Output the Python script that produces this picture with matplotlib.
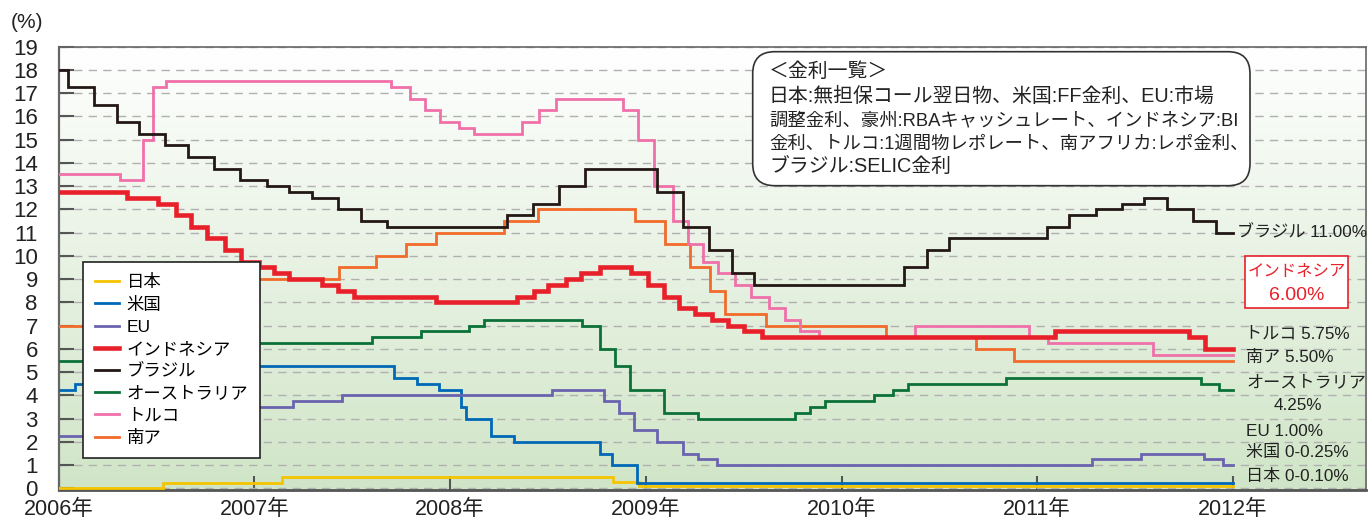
import numpy as np
import pandas as pd
import matplotlib
matplotlib.use('Agg')
import matplotlib.pyplot as plt
from matplotlib.patches import FancyBboxPatch, Rectangle

plt.rcParams['font.family'] = ['Liberation Sans', 'Noto Sans CJK JP']

# 政策金利 (変更日, 金利%)
japan_dates = ['2006-01-01', '2006-07-14', '2007-02-21', '2008-10-31', '2008-12-19']
japan_rates = [0.0, 0.25, 0.50, 0.30, 0.10]

us_dates = ['2006-01-01', '2006-01-31', '2006-03-28', '2006-05-10', '2006-06-29', '2007-09-18',
            '2007-10-31', '2007-12-11', '2008-01-22', '2008-01-30', '2008-03-18', '2008-04-30',
            '2008-10-08', '2008-10-29', '2008-12-16']
us_rates = [4.25, 4.50, 4.75, 5.00, 5.25, 4.75, 4.50, 4.25, 3.50, 3.00, 2.25, 2.00, 1.50, 1.00, 0.25]

eu_dates = ['2006-01-01', '2006-03-08', '2006-06-15', '2006-08-09', '2006-10-11', '2006-12-13',
            '2007-03-14', '2007-06-13', '2008-07-09', '2008-10-15', '2008-11-12', '2008-12-10',
            '2009-01-21', '2009-03-11', '2009-04-08', '2009-05-13', '2011-04-13', '2011-07-13',
            '2011-11-09', '2011-12-14']
eu_rates = [2.25, 2.50, 2.75, 3.00, 3.25, 3.50, 3.75, 4.00, 4.25, 3.75, 3.25, 2.50,
            2.00, 1.50, 1.25, 1.00, 1.25, 1.50, 1.25, 1.00]

indonesia_dates = ['2006-01-01', '2006-05-09', '2006-07-06', '2006-08-08', '2006-09-05', '2006-10-05',
                   '2006-11-07', '2006-12-07', '2007-01-09', '2007-02-06', '2007-03-06', '2007-05-08',
                   '2007-06-05', '2007-07-05', '2007-12-06', '2008-05-06', '2008-06-05', '2008-07-03',
                   '2008-08-05', '2008-09-02', '2008-10-07', '2008-12-04', '2009-01-06', '2009-02-04',
                   '2009-03-04', '2009-04-03', '2009-05-05', '2009-06-03', '2009-07-03', '2009-08-05',
                   '2011-02-04', '2011-10-11', '2011-11-10']
indonesia_rates = [12.75, 12.50, 12.25, 11.75, 11.25, 10.75, 10.25, 9.75, 9.50, 9.25, 9.00, 8.75,
                   8.50, 8.25, 8.00, 8.25, 8.50, 8.75, 9.00, 9.25, 9.50, 9.25, 8.75, 8.25,
                   7.75, 7.50, 7.25, 7.00, 6.75, 6.50, 6.75, 6.50, 6.00]

brazil_dates = ['2006-01-01', '2006-01-18', '2006-03-08', '2006-04-19', '2006-05-31', '2006-07-19',
                '2006-08-30', '2006-10-18', '2006-12-06', '2007-01-24', '2007-03-07', '2007-04-18',
                '2007-06-06', '2007-07-18', '2007-09-05', '2008-04-16', '2008-06-04', '2008-07-23',
                '2008-09-10', '2009-01-21', '2009-03-11', '2009-04-29', '2009-06-10', '2009-07-22',
                '2010-04-28', '2010-06-09', '2010-07-21', '2011-01-19', '2011-03-02', '2011-04-20',
                '2011-06-08', '2011-07-20', '2011-08-31', '2011-10-19', '2011-11-30']
brazil_rates = [18.00, 17.25, 16.50, 15.75, 15.25, 14.75, 14.25, 13.75, 13.25, 13.00, 12.75, 12.50,
                12.00, 11.50, 11.25, 11.75, 12.25, 13.00, 13.75, 12.75, 11.25, 10.25, 9.25, 8.75,
                9.50, 10.25, 10.75, 11.25, 11.75, 12.00, 12.25, 12.50, 12.00, 11.50, 11.00]

australia_dates = ['2006-01-01', '2006-05-03', '2006-08-02', '2006-11-08', '2007-08-08', '2007-11-07',
                   '2008-02-06', '2008-03-05', '2008-09-03', '2008-10-08', '2008-11-05', '2008-12-03',
                   '2009-02-04', '2009-04-08', '2009-10-07', '2009-11-04', '2009-12-02', '2010-03-03',
                   '2010-04-07', '2010-05-05', '2010-11-03', '2011-11-02', '2011-12-07']
australia_rates = [5.50, 5.75, 6.00, 6.25, 6.50, 6.75, 7.00, 7.25, 7.00, 6.00, 5.25, 4.25,
                   3.25, 3.00, 3.25, 3.50, 3.75, 4.00, 4.25, 4.50, 4.75, 4.50, 4.25]

turkey_dates = ['2006-01-01', '2006-04-25', '2006-06-07', '2006-06-25', '2006-07-20', '2007-09-13',
                '2007-10-18', '2007-11-15', '2007-12-13', '2008-01-17', '2008-02-14', '2008-05-15',
                '2008-06-16', '2008-07-17', '2008-11-20', '2008-12-18', '2009-01-16', '2009-02-20',
                '2009-03-20', '2009-04-17', '2009-05-15', '2009-06-17', '2009-07-17', '2009-08-19',
                '2009-09-17', '2009-10-16', '2009-11-20', '2010-05-18', '2010-12-17', '2011-01-21',
                '2011-08-05']
turkey_rates = [13.50, 13.25, 15.00, 17.25, 17.50, 17.25, 16.75, 16.25, 15.75, 15.50, 15.25, 15.75,
                16.25, 16.75, 16.25, 15.00, 13.00, 11.50, 10.50, 9.75, 9.25, 8.75, 8.25, 7.75,
                7.25, 6.75, 6.50, 7.00, 6.50, 6.25, 5.75]

safrica_dates = ['2006-01-01', '2006-06-08', '2006-08-03', '2006-10-12', '2006-12-07', '2007-06-07',
                 '2007-08-16', '2007-10-11', '2007-12-06', '2008-04-11', '2008-06-13', '2008-12-12',
                 '2009-02-06', '2009-03-24', '2009-04-30', '2009-05-28', '2009-08-13', '2010-03-25',
                 '2010-09-09', '2010-11-18']
safrica_rates = [7.00, 7.50, 8.00, 8.50, 9.00, 9.50, 10.00, 10.50, 11.00, 11.50, 12.00, 11.50,
                 10.50, 9.50, 8.50, 7.50, 7.00, 6.50, 6.00, 5.50]

end_date = '2012-01-01'

series = [
    ('日本', japan_dates, japan_rates, '#f5c400', 2.0),
    ('米国', us_dates, us_rates, '#0068b7', 2.0),
    ('EU', eu_dates, eu_rates, '#6a63b0', 2.0),
    ('インドネシア', indonesia_dates, indonesia_rates, '#e8202a', 3.3),
    ('ブラジル', brazil_dates, brazil_rates, '#231815', 2.0),
    ('オーストラリア', australia_dates, australia_rates, '#0b7138', 2.0),
    ('トルコ', turkey_dates, turkey_rates, '#f070aa', 2.0),
    ('南ア', safrica_dates, safrica_rates, '#f26b2a', 2.0),
]
draw_order = ['日本', '米国', 'EU', 'オーストラリア', '南ア', 'トルコ', 'ブラジル', 'インドネシア']


def dec_year(s):
    t = pd.Timestamp(s)
    days = 366 if t.is_leap_year else 365
    return t.year + (t.dayofyear - 1) / days


W, H = 1370, 518
fig = plt.figure(figsize=(W / 100, H / 100), dpi=100)
fig.patch.set_facecolor('white')

L, R, T, B = 58.7, 1366, 46.5, 490
ax = fig.add_axes([L / W, (H - B) / H, (R - L) / W, (B - T) / H])
ax.set_xlim(2006.0, 2006 + (R - L) / 195.7)
ax.set_ylim(-0.065, 19.0)

# 背景グラデーション
grad = np.linspace(0, 1, 256).reshape(-1, 1)
top_c = np.array([1.0, 1.0, 1.0])
bot_c = np.array([0.815, 0.898, 0.78])
img = top_c + (bot_c - top_c) * grad[..., None]
ax.imshow(img, extent=[0, 1, 0, 1], transform=ax.transAxes, aspect='auto',
          origin='upper', zorder=0)

handles = {}
for name, d, r, c, lw in series:
    x = [dec_year(s) for s in d] + [dec_year(end_date)]
    y = list(r) + [r[-1]]
    ln, = ax.step(x, y, where='post', color=c, lw=lw, label=name,
                  zorder=3 + draw_order.index(name), solid_joinstyle='miter')
    handles[name] = ln

ax.set_yticks(range(0, 20))
ax.set_xticks(range(2006, 2013))
ax.set_xticklabels([f'{y}年' for y in range(2006, 2013)])
ax.tick_params(axis='y', direction='in', length=11, width=1.5, color='#555555',
               labelsize=16, pad=15, labelcolor='#222222')
ax.tick_params(axis='x', direction='in', length=10, width=1.5, color='#555555',
               labelsize=15.5, pad=6.5, labelcolor='#222222')
ax.yaxis.grid(True, linestyle=(0, (6, 4.5)), color='#b0b0b0', lw=1.0, zorder=1)
ax.set_axisbelow(True)
for sp in ['left', 'top', 'right']:
    ax.spines[sp].set_color('#666666')
    ax.spines[sp].set_linewidth(1.2)
ax.spines['bottom'].set_color('#555555')
ax.spines['bottom'].set_linewidth(2.0)
ax.spines['left'].set_linewidth(1.6)

fig.text(11 / W, 1 - 22 / H, '(%)', fontsize=15, va='center', ha='left', color='#222222')

leg = ax.legend(handles=[handles[s[0]] for s in series], loc='upper left',
                bbox_to_anchor=(83.3 / W, 1 - 262.3 / H), bbox_transform=fig.transFigure,
                borderaxespad=0, fontsize=12.5, handlelength=1.4, handletextpad=0.46,
                borderpad=0.65, labelspacing=0.4, fancybox=False, framealpha=1,
                edgecolor='#222222')
leg.get_frame().set_linewidth(1.2)
leg.set_zorder(20)

# 金利一覧ボックス
box = FancyBboxPatch((752.7, H - 185.7), 1250 - 752.7, 185.7 - 51.7,
                     boxstyle='round,pad=0,rounding_size=22', transform=None,
                     facecolor='white', edgecolor='#333333', lw=1.2, zorder=25)
fig.add_artist(box)
info_lines = ['＜金利一覧＞',
              '日本:無担保コール翌日物、米国:FF金利、EU:市場',
              '調整金利、豪州:RBAキャッシュレート、インドネシア:BI',
              '金利、トルコ:1週間物レポレート、南アフリカ:レポ金利、',
              'ブラジル:SELIC金利']
info_y = [71.7, 96.7, 120.7, 144.3, 166.7]
info_size = [14.3, 14.3, 13.2, 13.2, 14.3]
for s, yy, fs in zip(info_lines, info_y, info_size):
    fig.text(769 / W, 1 - yy / H, s, fontsize=fs, va='center', ha='left',
             color='#222222', zorder=26)

# 右端ラベル
right_labels = [('ブラジル 11.00%', 1237, 233),
                ('トルコ 5.75%', 1245, 334),
                ('南ア 5.50%', 1246, 357),
                ('オーストラリア', 1246, 383),
                ('EU 1.00%', 1246, 431),
                ('米国 0-0.25%', 1246, 453),
                ('日本 0-0.10%', 1246, 477)]
for s, xx, yy in right_labels:
    fig.text(xx / W, 1 - yy / H, s, fontsize=12.3, va='center', ha='left', color='#222222')
fig.text(1298 / W, 1 - 406 / H, '4.25%', fontsize=12.3, va='center', ha='center', color='#222222')

rbox = Rectangle((1245, H - 308.3), 1348.3 - 1245, 308.3 - 255.7, transform=None,
                 facecolor='white', edgecolor='#e8202a', lw=1.2, zorder=25)
fig.add_artist(rbox)
fig.text(1296.5 / W, 1 - 271.7 / H, 'インドネシア', fontsize=11.8, va='center', ha='center',
         color='#e8202a', zorder=26)
fig.text(1296.5 / W, 1 - 295 / H, '6.00%', fontsize=14, va='center', ha='center',
         color='#e8202a', zorder=26)

fig.savefig('out.png', dpi=100)
